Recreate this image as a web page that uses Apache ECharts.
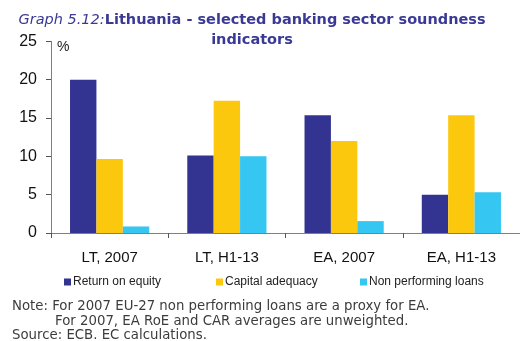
<!DOCTYPE html>
<html>
<head>
<meta charset="utf-8">
<script src="https://cdn.jsdelivr.net/npm/echarts@6/dist/echarts.min.js"></script>
<style>
html,body{margin:0;padding:0;background:#fff;}
#chart{width:520px;height:341px;}
</style>
</head>
<body>
<div id="chart"></div>
<script>
// Banking sector soundness indicators, %
const categories = ['LT, 2007', 'LT, H1-13', 'EA, 2007', 'EA, H1-13'];
const returnOnEquity = [20.0, 10.1, 15.35, 5.0];
const capitalAdequacy = [9.65, 17.25, 12.0, 15.35];
const nonPerformingLoans = [0.85, 10.0, 1.55, 5.3];
const seriesNames = ['Return on equity', 'Capital adequacy', 'Non performing loans'];
const seriesColors = ['#333391', '#FCC80E', '#36C6F2'];
const yTicks = { min: 0, max: 25, step: 5 };

const chart = echarts.init(document.getElementById('chart'), null, { renderer: 'canvas' });
const textFont = 'DejaVu Sans';
const noteColor = '#3c3c3c';
const titleColor = '#3a3a96';

const values = [returnOnEquity, capitalAdequacy, nonPerformingLoans];

function legendFor(i, left) {
  return {
    data: [seriesNames[i]],
    left: left,
    top: 276,
    itemWidth: 7,
    itemHeight: 7,
    itemGap: 0,
    icon: 'rect',
    padding: 0,
    textStyle: { fontFamily: 'Liberation Sans', fontSize: 12, color: '#222', padding: [0, 0, 0, -3] }
  };
}

chart.setOption({
  animation: false,
  legend: [legendFor(0, 64), legendFor(1, 216), legendFor(2, 360)],
  grid: { left: 51, right: -1, top: 41.3, bottom: 108, containLabel: false },
  xAxis: {
    type: 'category',
    data: categories,
    axisLine: { lineStyle: { color: '#7f7f7f', width: 1 } },
    axisTick: { show: true, length: 5, lineStyle: { color: '#555' } },
    axisLabel: { fontFamily: 'Liberation Sans', fontSize: 15, color: '#111', margin: 17 }
  },
  yAxis: {
    type: 'value',
    min: yTicks.min,
    max: yTicks.max,
    interval: yTicks.step,
    splitLine: { show: false },
    axisLine: { show: true, lineStyle: { color: '#7f7f7f', width: 1 } },
    axisTick: { show: true, length: 5, lineStyle: { color: '#555' } },
    axisLabel: { fontFamily: 'Liberation Sans', fontSize: 16, color: '#111', margin: 14 }
  },
  series: seriesNames.map((name, i) => ({
    name: name,
    type: 'bar',
    data: values[i],
    barWidth: 26.4,
    barGap: '0%',
    itemStyle: { color: seriesColors[i] }
  })),
  graphic: [
    {
      type: 'text', x: 252, y: 20,
      style: {
        text: '{i|Graph 5.12:}{b|Lithuania - selected banking sector soundness}',
        align: 'center', verticalAlign: 'middle',
        rich: {
          i: { fontFamily: textFont, fontStyle: 'italic', fontSize: 14.5, fill: titleColor },
          b: { fontFamily: textFont, fontWeight: 'bold', fontSize: 14.5, fill: titleColor }
        }
      }
    },
    {
      type: 'text', x: 252, y: 40,
      style: { text: 'indicators', align: 'center', verticalAlign: 'middle', fontFamily: textFont, fontWeight: 'bold', fontSize: 14.5, fill: titleColor }
    },
    { type: 'text', left: 57, top: 40, style: { text: '%', fontFamily: 'Liberation Sans', fontSize: 14, fill: '#222' } },
    { type: 'text', left: 12, top: 300, style: { text: 'Note: For 2007 EU-27 non performing loans are a proxy for EA.', fontFamily: textFont, fontSize: 13.3, fill: noteColor } },
    { type: 'text', left: 55, top: 315, style: { text: 'For 2007, EA RoE and CAR averages are unweighted.', fontFamily: textFont, fontSize: 13.3, fill: noteColor } },
    { type: 'text', left: 12, top: 329, style: { text: 'Source: ECB. EC calculations.', fontFamily: textFont, fontSize: 13.3, fill: noteColor } }
  ]
});
</script>
</body>
</html>
